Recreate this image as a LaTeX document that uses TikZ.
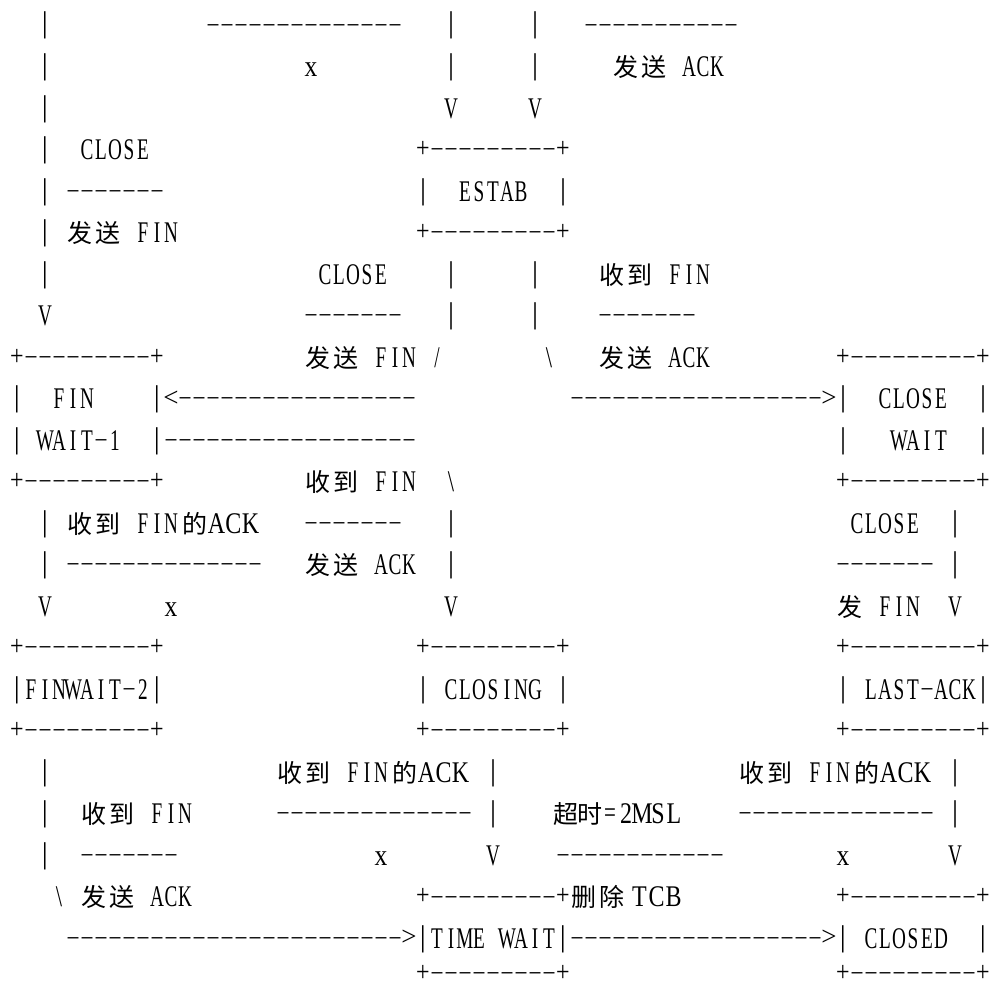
\documentclass[tikz,border=0pt]{standalone}
\usepackage{fontspec}
\usepackage{graphicx}
\setmainfont{Liberation Serif}
\newfontfamily\cjkfont{Noto Sans CJK SC}
\newcounter{segc}

\ExplSyntaxOn
\dim_new:N \l__rs_cell_dim
\tl_new:N \l__rs_scale_tl
\cs_new_protected:Npn \__rs_hold:n #1
  { \hbox_to_wd:nn { \l__rs_cell_dim } { \hss #1 \hss } }
\cs_new_protected:Npn \__rs_cell:n #1
  {
    \int_case:nnF { `#1 }
      {
        { 32 } { \hbox_to_wd:nn { \l__rs_cell_dim } { } }
        { 126 } { \hbox_to_wd:nn { \l__rs_cell_dim } { } }
        { 45 } { \__rs_hold:n { \raisebox{5.9pt}{\scalebox{1.4}[0.6]{-}} } }
        { 33 } { \__rs_hold:n { \scalebox{0.75}[1]{\char92} } }
        { 124 } { \__rs_hold:n { \raisebox{2pt}{|} } }
        { 43 } { \__rs_hold:n { \raisebox{2pt}{\scalebox{0.8}[0.95]{+}} } }
        { 60 } { \__rs_hold:n { \raisebox{2.5pt}{\scalebox{0.9}[0.9]{<}} } }
        { 62 } { \__rs_hold:n { \raisebox{2.5pt}{\scalebox{0.9}[0.9]{>}} } }
        { 120 } { \__rs_hold:n { \scalebox{0.85}[1]{x} } }
        { 61 } { \__rs_hold:n { \raisebox{1pt}{\scalebox{0.7}[1]{=}} } }
      }
      {
        \int_compare:nNnTF { `#1 } < { 256 }
          { \__rs_hold:n { \scalebox{\l__rs_scale_tl}[1]{#1} } }
          { \hbox_to_wd:nn { 2\l__rs_cell_dim } { \hss \cjkfont\fontsize{25pt}{25pt}\selectfont #1 \hss } }
      }
  }
\NewDocumentCommand \AL { O{14pt} O{0.64} m }
  {
    \group_begin:
    \dim_set:Nn \l__rs_cell_dim {#1}
    \tl_set:Nn \l__rs_scale_tl {#2}
    \fontsize{30pt}{30pt}\selectfont
    \str_map_function:nN {#3} \__rs_cell:n
    \group_end:
  }
\ExplSyntaxOff

\tikzset{seg/.style={anchor=base west, inner sep=0pt, outer sep=0pt, text=black}}
% #1 line, #2 column, #3 text  (~ = one space)
\newcommand\seg[3]{\stepcounter{segc}\node[seg] (s\thesegc) at ({10+14*#2},{-min(35+41.52*#1,983)}) {\AL{#3}};}
% #1 cell width, #2 x, #3 line, #4 text
\newcommand\segx[4]{\stepcounter{segc}\node[seg] (s\thesegc) at (#2,{-35-41.52*#3}) {\AL[#1][0.8]{#4}};}

\begin{document}
\begin{tikzpicture}[x=1pt,y=1pt]
\useasboundingbox[fill=white] (0,0) rectangle (990,-987);
% line 0
\seg{0}{2}{|}\seg{0}{14}{--------------}\seg{0}{31}{|}\seg{0}{37}{|}\seg{0}{41}{-----------}
% line 1
\seg{1}{2}{|}\seg{1}{21}{x}\seg{1}{31}{|}\seg{1}{37}{|}\seg{1}{43}{发送~ACK}
% line 2
\seg{2}{2}{|}\seg{2}{31}{V}\seg{2}{37}{V}
% line 3
\seg{3}{2}{|}\seg{3}{5}{CLOSE}\seg{3}{29}{+---------+}
% line 4
\seg{4}{2}{|}\seg{4}{4}{-------}\seg{4}{29}{|~~ESTAB~~|}
% line 5
\seg{5}{2}{|}\seg{5}{4}{发送~FIN}\seg{5}{29}{+---------+}
% line 6
\seg{6}{2}{|}\seg{6}{22}{CLOSE}\seg{6}{31}{|}\seg{6}{37}{|}\seg{6}{42}{收到~FIN}
% line 7
\seg{7}{2}{V}\seg{7}{21}{-------}\seg{7}{31}{|}\seg{7}{37}{|}\seg{7}{42}{-------}
% line 8
\seg{8}{0}{+---------+}\seg{8}{21}{发送~FIN~/}\seg{8}{38}{!}\seg{8}{42}{发送~ACK}\seg{8}{59}{+---------+}
% line 9
\seg{9}{0}{|~~FIN~~~~|<-----------------}\seg{9}{40}{------------------>|~~CLOSE~~|}
% line 10
\seg{10}{0}{|~WAIT-1~~|------------------}\seg{10}{59}{|~~~WAIT~~|}
% line 11
\seg{11}{0}{+---------+}\seg{11}{21}{收到~FIN}\seg{11}{31}{!}\seg{11}{59}{+---------+}
% line 12
\seg{12}{2}{|~收到~FIN}\segx{14pt}{181}{12}{的}\segx{17pt}{208}{12}{ACK}
\seg{12}{21}{-------}\seg{12}{31}{|}\seg{12}{60}{CLOSE~~|}
% line 13
\seg{13}{2}{|~--------------}\seg{13}{21}{发送~ACK}\seg{13}{31}{|}\seg{13}{59}{-------~|}
% line 14
\seg{14}{2}{V}\seg{14}{11}{x}\seg{14}{31}{V}\seg{14}{59}{发~FIN~~V}
% line 15
\seg{15}{0}{+---------+}\seg{15}{29}{+---------+}\seg{15}{59}{+---------+}
% line 16
\seg{16}{0}{|FINWAIT-2|}\seg{16}{29}{|~CLOSING~|}\seg{16}{59}{|~LAST-ACK|}
% line 17
\seg{17}{0}{+---------+}\seg{17}{29}{+---------+}\seg{17}{59}{+---------+}
% line 18
\seg{18}{2}{|}\seg{18}{19}{收到~FIN}\segx{14pt}{391}{18}{的}\segx{17pt}{418}{18}{ACK}\seg{18}{34}{|}
\seg{18}{52}{收到~FIN}\segx{14pt}{853}{18}{的}\segx{17pt}{880}{18}{ACK}\seg{18}{67}{|}
% line 19
\seg{19}{2}{|}\seg{19}{5}{收到~FIN}\seg{19}{19}{--------------~|}
\segx{12pt}{554}{19}{超时}\segx{16pt}{602}{19}{=2MSL}\seg{19}{52}{--------------~|}
% line 20
\seg{20}{2}{|}\seg{20}{5}{-------}\seg{20}{26}{x}\seg{20}{34}{V}\seg{20}{39}{------------}\seg{20}{59}{x}\seg{20}{67}{V}
% line 21
\seg{21}{3}{!~发送~ACK}\seg{21}{29}{+---------+删除}\segx{17pt}{631}{21}{TCB}\seg{21}{59}{+---------+}
% line 22
\seg{22}{4}{------------------------>|TIME~WAIT|------------------>|~CLOSED~~|}
% line 23
\seg{23}{29}{+---------+}\seg{23}{59}{+---------+}
\end{tikzpicture}
\end{document}
